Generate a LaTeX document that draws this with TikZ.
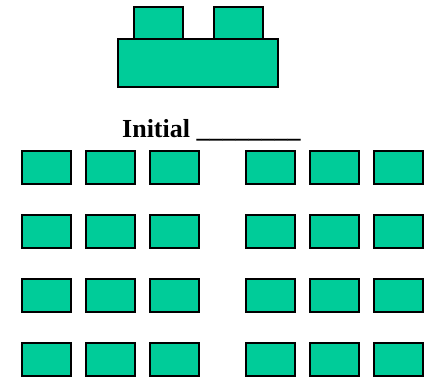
\documentclass[tikz,border=0pt]{standalone}
\usepackage{fontspec}
\setmainfont{Liberation Serif}
\usetikzlibrary{positioning}
\definecolor{deskgreen}{RGB}{0,204,153}

\begin{document}
\begin{tikzpicture}[
    x=1pt,y=-1pt,
    desk/.style={draw,fill=deskgreen,line width=1.3pt,minimum width=49pt,minimum height=33pt,inner sep=0pt},
    caption/.style={font=\bfseries\fontsize{26}{30}\selectfont,inner sep=0pt}
  ]
    \useasboundingbox (0,0) rectangle (434,377);
    % front desk
    \node[desk,minimum height=32pt] (monleft) at (158.5,23) {};
    \node[desk,minimum height=32pt] (monright) at (238.5,23) {};
    \node[desk,minimum width=160pt,minimum height=48pt] (front) at (198,63) {};
    \node[caption,anchor=base west] (initial) at (122,138) {Initial \_\_\_\_\_\_\_\_};
    % student desks
    \foreach \r/\y in {1/167.5,2/231.5,3/295.5,4/359.5}
      \foreach \c/\x in {1/46.5,2/110.5,3/174.5,4/270.5,5/334.5,6/398.5}
        \node[desk] (desk-\r-\c) at (\x,\y) {};
\end{tikzpicture}
\end{document}
